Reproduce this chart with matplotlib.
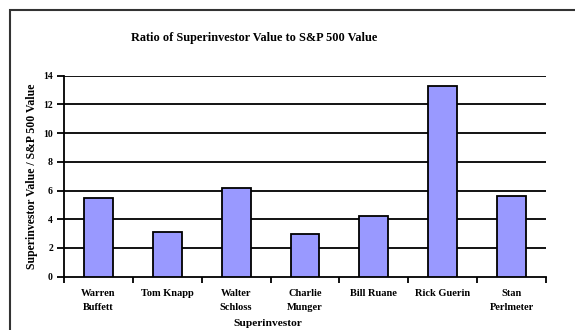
import matplotlib
matplotlib.use("Agg")
import matplotlib.pyplot as plt
from matplotlib.patches import Rectangle

categories = ["Warren\nBuffett", "Tom Knapp", "Walter\nSchloss", "Charlie\nMunger",
              "Bill Ruane", "Rick Guerin", "Stan\nPerlmeter"]
values = [5.5, 3.1, 6.2, 3.0, 4.2, 13.3, 5.6]
yticks = [0, 2, 4, 6, 8, 10, 12, 14]

W, H = 575, 330
fig = plt.figure(figsize=(W / 100, H / 100), dpi=100)
fig.patch.set_facecolor("white")

# outer chart border (extends beyond right/bottom edges)
fig.patches.append(Rectangle((10 / W, -0.1), 1.2, (H - 10) / H + 0.1,
                             transform=fig.transFigure, fill=False,
                             edgecolor="#333333", linewidth=1.5))

ax = fig.add_axes([64 / W, 1 - 276.7 / H, (546 - 64) / W, (276.7 - 75.7) / H])
x = list(range(len(categories)))
ax.bar(x, values, width=0.42, color="#9999FF", edgecolor="black", linewidth=1.3, zorder=3)
ax.set_xlim(-0.5, len(categories) - 0.5)
ax.set_ylim(0, 14)
ax.set_yticks(yticks)
ax.set_yticklabels([str(t) for t in yticks], family="Liberation Serif", fontsize=7,
                   fontweight="bold")
for t in yticks[1:]:
    ax.axhline(t, color="black", linewidth=1.3, zorder=1)
for s in ["top", "right"]:
    ax.spines[s].set_visible(False)
ax.spines["left"].set_linewidth(1.3)
ax.spines["bottom"].set_linewidth(1.3)

ax.set_xticks([i - 0.5 for i in range(len(categories) + 1)])
ax.set_xticklabels([])
ax.set_xticks(x, minor=True)
ax.set_xticklabels(categories, minor=True, family="Liberation Serif", fontsize=7.5,
                   fontweight="bold", linespacing=1.75, va="top")
ax.tick_params(axis="x", which="minor", length=0, pad=9)
ax.tick_params(axis="x", which="major", length=4, width=1.3, direction="out")
ax.tick_params(axis="y", length=5, width=1.3, direction="out", pad=3)

fig.text(254 / W, 1 - 38 / H, "Ratio of Superinvestor Value to S&P 500 Value",
         ha="center", va="center", family="Liberation Serif", fontweight="bold", fontsize=8.8)
fig.text(32 / W, 1 - 176 / H, "Superinvestor Value / S&P 500 Value", rotation=90,
         ha="center", va="center", family="Liberation Serif", fontweight="bold", fontsize=8.5)
fig.text(268 / W, 1 - 324 / H, "Superinvestor", ha="center", va="center",
         family="Liberation Serif", fontweight="bold", fontsize=8.2)

fig.savefig("out.png", dpi=100)
